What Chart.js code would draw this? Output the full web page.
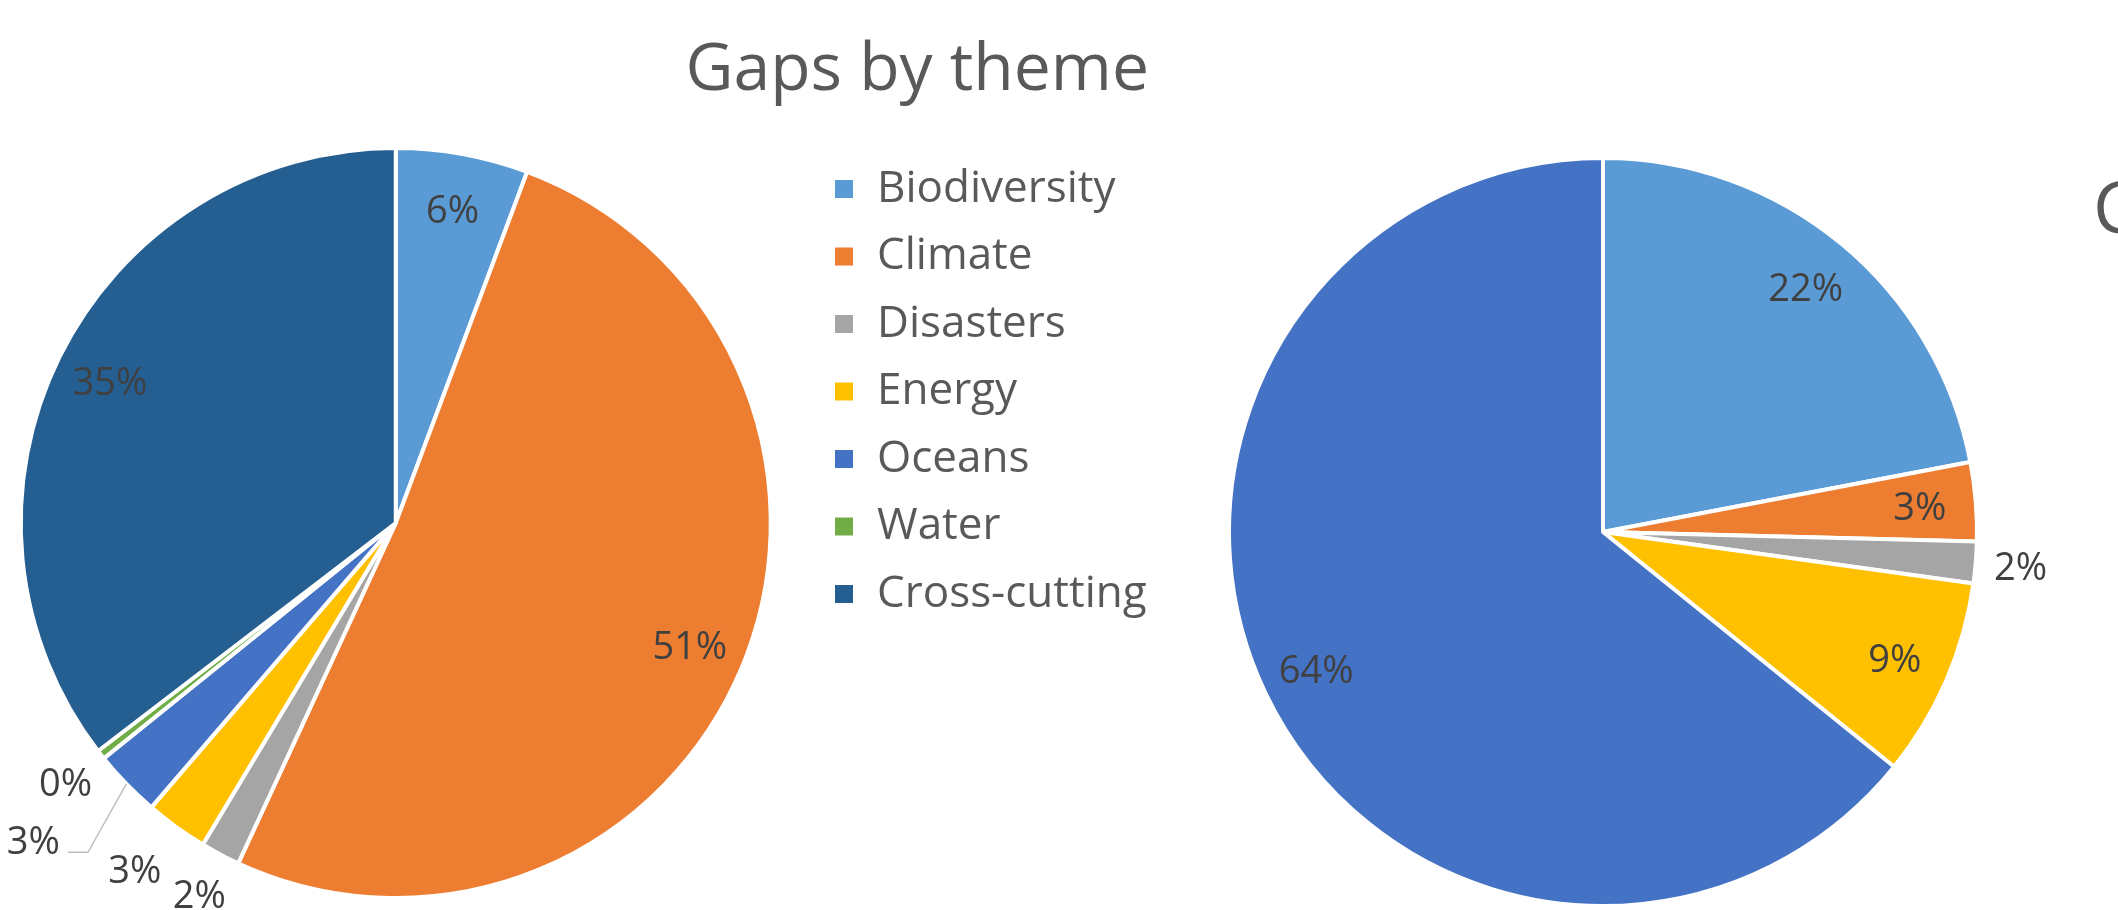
<!DOCTYPE html>
<html>
<head>
<meta charset="utf-8">
<title>Gaps by theme</title>
<script src="https://cdn.jsdelivr.net/npm/chart.js@4.4.1/dist/chart.umd.min.js"></script>
<style>
	html, body { margin: 0; padding: 0; background: #ffffff; }
	#wrap { position: relative; width: 2118px; height: 910px; overflow: hidden; }
	#wrap canvas { position: absolute; top: 0; }
</style>
</head>
<body>
<div id="wrap">
	<canvas id="themeChart"></canvas>
	<canvas id="otherChart"></canvas>
</div>
<script>
// left pie: share of gaps per theme (%)
const themes = ["Biodiversity", "Climate", "Disasters", "Energy", "Oceans", "Water", "Cross-cutting"];
const themeShares = [5.7, 51.2, 1.7, 2.7, 2.9, 0.4, 35.4];
const themeColors = ["#5B9BD5", "#ED7D31", "#A5A5A5", "#FFC000", "#4472C4", "#70AD47", "#255E91"];

// right pie (its title is cut off at the edge of the picture)
const otherThemes = ["Biodiversity", "Climate", "Disasters", "Energy", "Oceans"];
const otherShares = [22.0, 3.4, 1.8, 8.6, 64.2];
const otherColors = ["#5B9BD5", "#ED7D31", "#A5A5A5", "#FFC000", "#4472C4"];

const leftTitle = "Gaps by theme";
const rightTitle = "C";

const textColor = "#595959";
const labelColor = "#404040";
const fontFamily = '"Open Sans"';

Chart.defaults.font.family = fontFamily;
Chart.defaults.color = textColor;

function overlaps(a, b) {
	return a.l < b.r && a.r > b.l && a.t < b.b && a.b > b.t;
}

// percentage labels, inside when they fit, else outside (leader line when pushed far)
const pctLabels = {
	id: "pctLabels",
	afterDatasetsDraw: function(chart, args, opts) {
		const ctx = chart.ctx;
		const meta = chart.getDatasetMeta(0);
		const data = chart.data.datasets[0].data;
		const total = data.reduce(function(a, b) { return a + b; }, 0);
		const size = opts.size;
		const dy = size * 0.07; // visual centring of the digits

		ctx.save();
		ctx.font = size + "px " + fontFamily;
		ctx.fillStyle = labelColor;
		ctx.textAlign = "center";
		ctx.textBaseline = "middle";

		const placed = [];
		const outside = [];
		meta.data.forEach(function(arc, i) {
			const p = arc.getProps(["x", "y", "startAngle", "endAngle", "outerRadius"], true);
			const text = Math.round(data[i] / total * 100) + "%";
			const w = ctx.measureText(text).width;
			const mid = (p.startAngle + p.endAngle) / 2;
			const rIn = p.outerRadius * 0.85;
			const chord = 2 * rIn * Math.sin((p.endAngle - p.startAngle) / 2);
			if (chord > w * 1.1) {
				const x = p.x + Math.cos(mid) * rIn;
				const y = p.y + Math.sin(mid) * rIn;
				ctx.fillText(text, x, y + dy);
				placed.push({l: x - w / 2, r: x + w / 2, t: y - size / 2, b: y + size / 2});
			} else {
				outside.push({p: p, text: text, w: w, mid: mid, v: data[i]});
			}
		});

		outside.sort(function(a, b) { return a.v - b.v; });
		outside.forEach(function(o) {
			const r0 = o.p.outerRadius * 1.12;
			const x0 = o.p.x + Math.cos(o.mid) * r0;
			const y0 = o.p.y + Math.sin(o.mid) * r0;
			const side = Math.cos(o.mid) < 0 ? -1 : 1;
			const down = Math.sin(o.mid) < 0 ? -1 : 1;
			let x = x0, y = y0;
			let box;
			for (let k = 0; k < 80; k++) {
				box = {l: x - o.w / 2 - 4, r: x + o.w / 2 + 4, t: y - size * 0.75, b: y + size * 0.75};
				if (!placed.some(function(q) { return overlaps(q, box); })) {
					break;
				}
				x += side * 3.8;
				y += down * 1.6;
			}
			placed.push(box);
			if (Math.hypot(x - x0, y - y0) > 30) {
				const ex = o.p.x + Math.cos(o.mid) * o.p.outerRadius;
				const ey = o.p.y + Math.sin(o.mid) * o.p.outerRadius;
				const nx = x - side * (o.w / 2 + 8);
				const ly = y + size * 0.3;
				ctx.save();
				ctx.strokeStyle = "#BFBFBF";
				ctx.lineWidth = 1.5;
				ctx.beginPath();
				ctx.moveTo(ex, ey);
				ctx.lineTo(nx - side * 20, ly);
				ctx.lineTo(nx, ly);
				ctx.stroke();
				ctx.restore();
			}
			ctx.fillText(o.text, x, y + dy);
		});

		if (opts.edgeTitle) {
			ctx.font = "72px " + fontFamily;
			ctx.fillStyle = textColor;
			ctx.textAlign = "left";
			ctx.fillText(opts.edgeTitle.text, opts.edgeTitle.x, opts.edgeTitle.y);
		}
		ctx.restore();
	}
};

// left chart: pie + legend + title; the canvas starts a bit left of the page
const leftShift = 18;
const legendFont = 44;
const legendPad = 23.5;
const legendBox = 22;
const legendLeft = 809.5 + leftShift;
const measure = document.createElement("canvas").getContext("2d");
measure.font = legendFont + "px " + fontFamily;
const longest = Math.max.apply(null, themes.map(function(t) { return measure.measureText(t).width; }));
const leftWidth = Math.ceil(legendLeft + legendPad + legendBox + legendFont / 2 + longest + 10) - 8;

const leftCanvas = document.getElementById("themeChart");
leftCanvas.width = leftWidth;
leftCanvas.height = 910;
leftCanvas.style.left = (-leftShift) + "px";

new Chart(leftCanvas, {
	type: "pie",
	data: {
		labels: themes,
		datasets: [{
			data: themeShares,
			backgroundColor: themeColors,
			borderColor: "#ffffff",
			borderWidth: 4,
		}]
	},
	options: {
		responsive: false,
		devicePixelRatio: 1,
		animation: false,
		events: [],
		layout: {padding: {left: 0, right: 0, top: 0, bottom: 10}},
		plugins: {
			title: {
				display: true,
				text: leftTitle,
				align: "end",
				color: textColor,
				font: {size: 66, weight: "normal", lineHeight: 1.2},
				padding: {top: 32, bottom: 34.8},
			},
			legend: {
				position: "right",
				align: "start",
				fullSize: true,
				maxWidth: leftWidth - legendLeft,
				title: {display: true, text: "", font: {size: 20, lineHeight: 1}, padding: {top: 123.5, bottom: 0}},
				labels: {
					color: textColor,
					font: {size: legendFont},
					boxWidth: legendBox,
					boxHeight: legendBox,
					padding: legendPad,
				},
			},
			tooltip: {enabled: false},
			pctLabels: {size: 38},
		}
	},
	plugins: [pctLabels]
});

// right chart
const rightCanvas = document.getElementById("otherChart");
rightCanvas.width = 958;
rightCanvas.height = 910;
rightCanvas.style.left = "1160px";

new Chart(rightCanvas, {
	type: "pie",
	data: {
		labels: otherThemes,
		datasets: [{
			data: otherShares,
			backgroundColor: otherColors,
			borderColor: "#ffffff",
			borderWidth: 4,
		}]
	},
	options: {
		responsive: false,
		devicePixelRatio: 1,
		animation: false,
		events: [],
		layout: {padding: {left: 67, right: 139, top: 156, bottom: 2}},
		plugins: {
			title: {display: false},
			legend: {display: false},
			tooltip: {enabled: false},
			pctLabels: {size: 38, edgeTitle: {text: rightTitle, x: 933, y: 212}},
		}
	},
	plugins: [pctLabels]
});
</script>
</body>
</html>
